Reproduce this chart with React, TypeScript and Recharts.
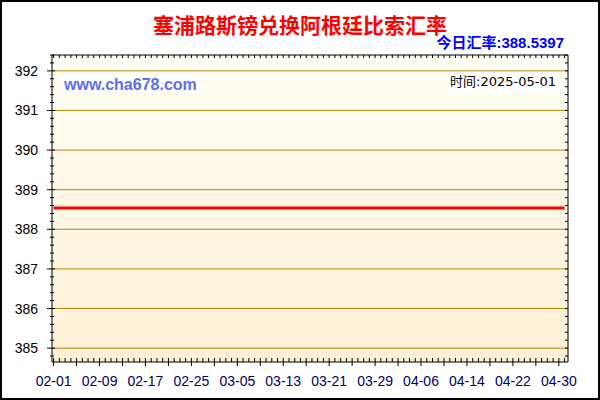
import { CartesianGrid, Line, LineChart, XAxis, YAxis } from "recharts";

const title = "塞浦路斯镑兑换阿根廷比索汇率";
const currentRateLabel = "今日汇率:388.5397";
const siteLabel = "www.cha678.com";
const timeLabel = "时间:2025-05-01";

// rate at each labelled date, plus the last point (05-01)
const rateDates = [
  "02-01", "02-09", "02-17", "02-25", "03-05", "03-13",
  "03-21", "03-29", "04-06", "04-14", "04-22", "04-30", "05-01",
];
const rateValues = [
  388.5397, 388.5397, 388.5397, 388.5397, 388.5397, 388.5397,
  388.5397, 388.5397, 388.5397, 388.5397, 388.5397, 388.5397, 388.5397,
];

const xTickLabels = [
  "02-01", "02-09", "02-17", "02-25", "03-05", "03-13",
  "03-21", "03-29", "04-06", "04-14", "04-22", "04-30",
];
const yTickLabels = [385, 386, 387, 388, 389, 390, 391, 392];

// day offsets from 02-01 (2025)
const monthStart: Record<string, number> = { "02": 0, "03": 28, "04": 59, "05": 89 };
const toDay = (md: string) => monthStart[md.slice(0, 2)] + Number(md.slice(3)) - 1;

const data = rateDates.map((d, i) => ({ day: toDay(d), rate: rateValues[i] }));

const xLabelDays = xTickLabels.map(toDay);
const xDays = Array.from({ length: 90 }, (_, i) => i); // one small tick per day
const yMinor = Array.from({ length: 39 }, (_, i) => Math.round(3848 + i * 2) / 10);

const X_DOMAIN: [number, number] = [-0.28, 89.6];
const Y_DOMAIN: [number, number] = [384.65, 392.4];

const labelFont = "'Liberation Sans', Arial, sans-serif";

const isMajorY = (v: number) => Math.abs(v - Math.round(v)) < 1e-6;

function BottomTick(props: any) {
  const { x, y, payload } = props;
  const d = payload.value as number;
  const major = d % 4 === 0;
  const idx = xLabelDays.indexOf(d);
  return (
    <g>
      <line x1={x} x2={x} y1={y - 4} y2={major ? y + 4 : y} stroke="#000" />
      {idx >= 0 && (
        <text
          x={x}
          y={y + 18.5}
          textAnchor="middle"
          dominantBaseline="central"
          fontSize={14}
          fontFamily={labelFont}
          fill="#000066"
        >
          {xTickLabels[idx]}
        </text>
      )}
    </g>
  );
}

function TopTick(props: any) {
  const { x, y } = props;
  return <line x1={x} x2={x} y1={y} y2={y + 3} stroke="#000" />;
}

function LeftTick(props: any) {
  const { x, y, payload } = props;
  const v = payload.value as number;
  const major = isMajorY(v);
  return (
    <g>
      <line x1={major ? x - 5 : x - 2} x2={major ? x + 3 : x + 2} y1={y} y2={y} stroke="#000" />
      {major && yTickLabels.includes(Math.round(v)) && (
        <text
          x={x - 14}
          y={y}
          textAnchor="end"
          dominantBaseline="central"
          fontSize={14}
          fontFamily={labelFont}
          fill="#000"
        >
          {Math.round(v)}
        </text>
      )}
    </g>
  );
}

function RightTick(props: any) {
  const { x, y } = props;
  return <line x1={x - 3} x2={x} y1={y} y2={y} stroke="#000" />;
}

export default function App() {
  return (
    <div
      style={{
        position: "absolute",
        left: 0,
        top: 0,
        width: 600,
        height: 400,
        background: "#fff",
        fontFamily: "'Liberation Sans', 'Noto Sans CJK SC', sans-serif",
      }}
    >
      <LineChart width={600} height={400} data={data} margin={{ top: 54, right: 31, bottom: 0, left: 0 }}>
        <defs>
          <linearGradient id="plotBg" x1="0" y1="0" x2="0" y2="1">
            <stop offset="0%" stopColor="#fffef4" />
            <stop offset="100%" stopColor="#fdf0d5" />
          </linearGradient>
        </defs>
        <CartesianGrid
          xAxisId="bottom"
          yAxisId="left"
          vertical={false}
          horizontalValues={yTickLabels}
          stroke="#b8860b"
          strokeOpacity={1}
          fill="url(#plotBg)"
          fillOpacity={1}
        />
        <XAxis
          xAxisId="bottom"
          dataKey="day"
          type="number"
          domain={X_DOMAIN}
          allowDataOverflow
          ticks={xDays}
          interval={0}
          height={38}
          tickSize={0}
          tickMargin={0}
          tickLine={false}
          axisLine={{ stroke: "#000" }}
          tick={(p: any) => <BottomTick {...p} />}
        />
        <XAxis
          xAxisId="top"
          orientation="top"
          dataKey="day"
          type="number"
          domain={X_DOMAIN}
          allowDataOverflow
          ticks={xDays}
          interval={0}
          height={1}
          tickSize={0}
          tickMargin={0}
          tickLine={false}
          axisLine={{ stroke: "#000" }}
          tick={(p: any) => <TopTick {...p} />}
        />
        <YAxis
          yAxisId="left"
          type="number"
          domain={Y_DOMAIN}
          allowDataOverflow
          ticks={yMinor}
          interval={0}
          width={52}
          tickSize={0}
          tickMargin={0}
          tickLine={false}
          axisLine={{ stroke: "#000" }}
          tick={(p: any) => <LeftTick {...p} />}
        />
        <YAxis
          yAxisId="right"
          orientation="right"
          type="number"
          domain={Y_DOMAIN}
          allowDataOverflow
          ticks={yMinor}
          interval={0}
          width={1}
          tickSize={0}
          tickMargin={0}
          tickLine={false}
          axisLine={{ stroke: "#000" }}
          tick={(p: any) => <RightTick {...p} />}
        />
        <Line
          xAxisId="bottom"
          yAxisId="left"
          type="linear"
          dataKey="rate"
          stroke="#ff0000"
          strokeWidth={3}
          dot={false}
          activeDot={false}
          isAnimationActive={false}
        />
      </LineChart>

      <div
        style={{
          position: "absolute",
          left: 0,
          top: 12,
          width: 600,
          height: 24,
          lineHeight: "24px",
          textAlign: "center",
          fontSize: 21,
          fontWeight: "bold",
          color: "#ff0000",
          fontFamily: "'Noto Sans CJK SC', sans-serif",
        }}
      >
        {title}
      </div>
      <div
        style={{
          position: "absolute",
          right: 36,
          top: 35,
          lineHeight: "16px",
          fontSize: 15,
          fontWeight: "bold",
          color: "#0000ff",
        }}
      >
        {currentRateLabel}
      </div>
      <div
        style={{
          position: "absolute",
          left: 61,
          top: 75,
          height: 19,
          lineHeight: "19px",
          padding: "0 3px",
          background: "#fff",
          fontSize: 16,
          fontWeight: "bold",
          color: "#5b6ff0",
        }}
      >
        {siteLabel}
      </div>
      <div
        style={{
          position: "absolute",
          right: 38,
          top: 72,
          height: 19,
          lineHeight: "19px",
          padding: "0 6px 0 3px",
          background: "#fff",
          fontSize: 13,
          color: "#000",
          fontFamily: "'DejaVu Sans', 'Noto Sans CJK SC', sans-serif",
        }}
      >
        {timeLabel}
      </div>
      <div
        style={{
          position: "absolute",
          left: 0,
          top: 0,
          width: 600,
          height: 400,
          boxSizing: "border-box",
          border: "2px solid #000",
          pointerEvents: "none",
        }}
      />
    </div>
  );
}
